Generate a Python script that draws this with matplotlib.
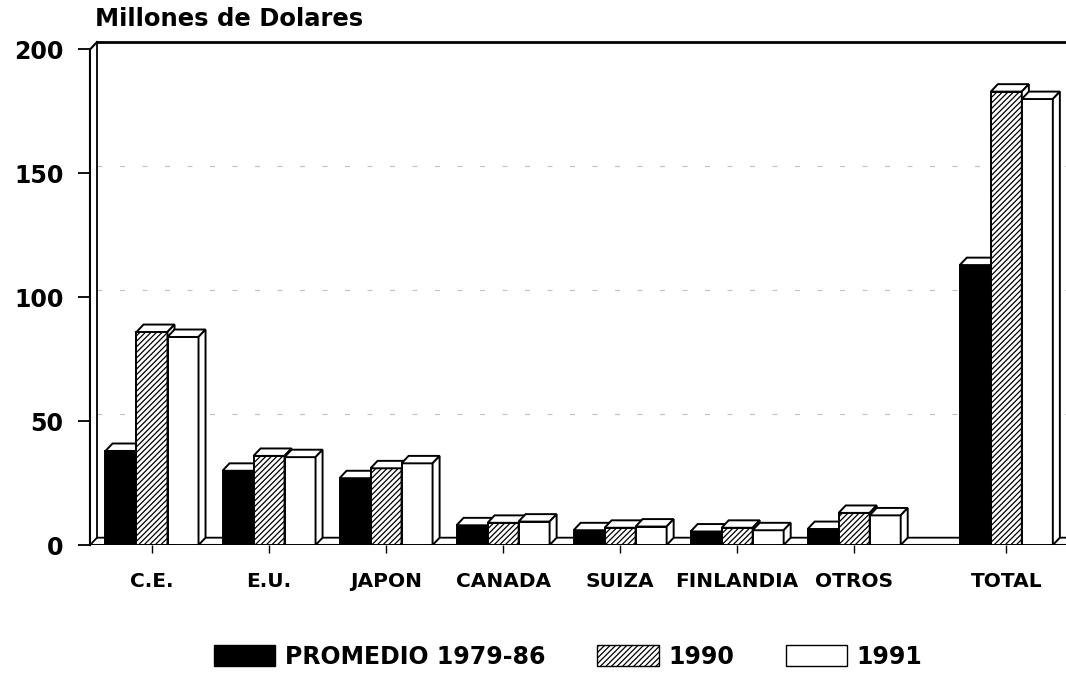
import matplotlib.pyplot as plt
import numpy as np
from matplotlib.patches import Polygon

categories = ["C.E.", "E.U.", "JAPON", "CANADA", "SUIZA", "FINLANDIA", "OTROS", "TOTAL"]
promedio = [38, 30, 27, 8, 6, 5.5, 6.5, 113]
v1990 = [86, 36, 31, 9, 7, 7, 13, 183]
v1991 = [84, 35.5, 33, 9.5, 7.5, 6, 12, 180]
series_labels = ["PROMEDIO 1979-86", "1990", "1991"]
yticks = [0, 50, 100, 150, 200]

plt.rcParams["font.family"] = "DejaVu Sans"
plt.rcParams["font.weight"] = "bold"
plt.rcParams["hatch.linewidth"] = 0.9

DX, DY = 0.06, 3.0   # fake 3d depth, in data units
W = 0.265


def bar3d(ax, x, h, face, hatch, z):
    x0, x1 = x - W / 2, x + W / 2
    ax.bar(x, h, W, color=face, hatch=hatch, edgecolor="black", lw=1.4, zorder=z)
    top = Polygon([(x0, h), (x0 + DX, h + DY), (x1 + DX, h + DY), (x1, h)],
                  closed=True, fc="white", ec="black", lw=1.4, zorder=z)
    side = Polygon([(x1, 0), (x1 + DX, DY), (x1 + DX, h + DY), (x1, h)],
                   closed=True, fc="white", ec="black", lw=1.4, zorder=z)
    ax.add_patch(top)
    ax.add_patch(side)


def main():
    fig = plt.figure(figsize=(10.66, 6.78), dpi=100)
    ax = fig.add_axes([0.0844, 0.196, 0.9156, 0.742])

    pos = np.arange(len(categories), dtype=float)
    pos[-1] += 0.3
    xl, xr = -0.53, 7.81
    ax.set_xlim(xl, xr)
    ax.set_ylim(0, 200 + DY)

    # floor and back wall
    floor = Polygon([(xl, 0), (xl + DX, DY), (xr + DX, DY), (xr, 0)],
                    closed=True, fc="white", ec="black", lw=1.3, zorder=1)
    ax.add_patch(floor)
    ax.plot([xl + DX, xl + DX], [DY, 200 + DY], color="black", lw=1.3, zorder=1)
    ax.plot([xl + DX, xr], [200 + DY, 200 + DY], color="black", lw=2, zorder=1, clip_on=False)
    ax.plot([xl, xl, xl + DX], [0, 200, 200 + DY], color="black", lw=1.5, zorder=1, clip_on=False)
    for t in yticks[1:-1]:
        ax.plot([xl + DX, xr], [t + DY, t + DY], color="#c4c4c4", lw=0.9,
                ls=(0, (4, 14)), zorder=0.5)

    styles = [("black", ""), ("white", "//////"), ("white", "")]
    z = 2
    for i, x in enumerate(pos):
        for j, vals in enumerate([promedio, v1990, v1991]):
            face, hatch = styles[j]
            bar3d(ax, x + (j - 1) * W, vals[i], face, hatch, z)
            z += 1

    for s in ["top", "right", "left", "bottom"]:
        ax.spines[s].set_visible(False)
    ax.axhline(0, color="black", lw=1.5, zorder=1)

    ax.set_yticks(yticks)
    ax.set_yticklabels([str(t) for t in yticks], fontsize=17, fontweight="bold")
    ax.tick_params(axis="y", length=9, width=1.3, pad=10, direction="out")
    ax.set_xticks(pos)
    ax.set_xticklabels(categories, fontsize=14.5, fontweight="bold")
    ax.tick_params(axis="x", length=6, width=1, pad=13, direction="out")

    fig.text(0.089, 0.972, "Millones de Dolares", fontsize=17.5, fontweight="bold",
             ha="left", va="center")

    handles = [plt.Rectangle((0, 0), 1, 1, fc=f, ec="black", hatch=h, lw=1) for f, h in styles]
    fig.legend(handles, series_labels, loc="center", bbox_to_anchor=(0.533, 0.031),
               ncol=3, frameon=False, handlelength=2.6, handleheight=1.0,
               handletextpad=0.4, columnspacing=2.2,
               prop={"weight": "bold", "size": 17})

    fig.savefig("out.png", dpi=100)


if __name__ == "__main__":
    main()
